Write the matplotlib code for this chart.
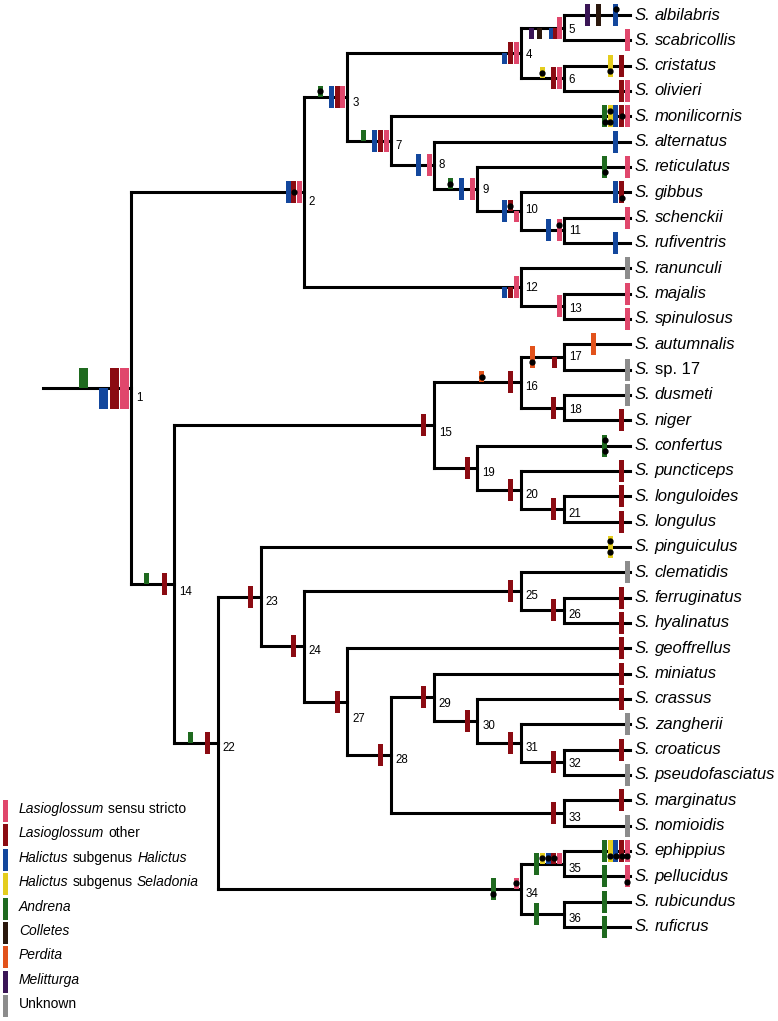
import matplotlib
matplotlib.use("Agg")
import matplotlib.pyplot as plt
from matplotlib.patches import Rectangle

plt.rcParams["font.family"] = ["Liberation Sans", "DejaVu Sans"]

# character-state categories (slot order along a branch, right to left)
cat_keys = ["pk", "rd", "bl", "ye", "gr", "br", "or", "pu", "un"]
cat_colors = ["#E0476C", "#8B0B12", "#13479D", "#E4CD1E", "#1F6A1F",
              "#2B180D", "#E2521B", "#3A1556", "#8C8C8C"]
cat_slot = [0, 1, 2, 3, 4, 5, 6, 7, 0]
legend_rows = [
    [("Lasioglossum", "italic"), ("sensu stricto", "normal")],
    [("Lasioglossum", "italic"), ("other", "normal")],
    [("Halictus", "italic"), ("subgenus", "normal"), ("Halictus", "italic")],
    [("Halictus", "italic"), ("subgenus", "normal"), ("Seladonia", "italic")],
    [("Andrena", "italic")],
    [("Colletes", "italic")],
    [("Perdita", "italic")],
    [("Melitturga", "italic")],
    [("Unknown", "normal")],
]

# tips, top to bottom
tips = ["albilabris", "scabricollis", "cristatus", "olivieri", "monilicornis",
        "alternatus", "reticulatus", "gibbus", "schenckii", "rufiventris",
        "ranunculi", "majalis", "spinulosus", "autumnalis", "sp. 17",
        "dusmeti", "niger", "confertus", "puncticeps", "longuloides",
        "longulus", "pinguiculus", "clematidis", "ferruginatus", "hyalinatus",
        "geoffrellus", "miniatus", "crassus", "zangherii", "croaticus",
        "pseudofasciatus", "marginatus", "nomioidis", "ephippius",
        "pellucidus", "rubicundus", "ruficrus"]
tip_parent = [5, 5, 6, 6, 7, 8, 9, 10, 11, 11, 12, 13, 13, 17, 17, 18, 18,
              19, 20, 21, 21, 23, 25, 26, 26, 27, 29, 30, 31, 32, 32, 33, 33,
              35, 35, 36, 36]
tip_states = ["pu:f br:f bl:f:t", "pk:f", "ye:f:b rd:f", "rd:f pk:f",
              "gr:f:b ye:f:tb bl:f rd:f:m pk:f", "bl:f", "gr:f:b pk:f",
              "bl:f rd:f:b", "pk:f", "bl:f", "un:f", "pk:f", "pk:f", "or:f",
              "un:f", "un:f", "rd:f", "gr:f:tb", "rd:f", "rd:f", "rd:f",
              "ye:f:tb", "un:f", "rd:f", "rd:f", "rd:f", "rd:f", "rd:f",
              "un:f", "rd:f", "un:f", "rd:f", "un:f",
              "gr:f ye:f:b bl:f:b rd:f:b pk:f:b", "gr:f pk:f:b", "gr:f",
              "gr:f"]
tip_level = 11.52
root_start = -2.03

# internal nodes 1..36
node_parent = [0, 1, 2, 3, 4, 4, 3, 7, 8, 9, 10, 2, 12, 1, 14, 15, 16, 16,
               15, 19, 20, 14, 22, 23, 24, 25, 24, 27, 28, 29, 30, 31, 28,
               22, 34, 34]
node_level = [0, 4, 5, 9, 10, 10, 6, 7, 8, 9, 10, 9, 10, 1, 7, 9, 10, 10,
              8, 9, 10, 2, 3, 4, 9, 10, 5, 6, 7, 8, 9, 10, 10, 9, 10, 10]
node_states = ["gr:t bl:b rd:f pk:f", "bl:f rd:f:m pk:f",
               "gr:t:t bl:f rd:f pk:f", "bl:b rd:f pk:f",
               "pu:b br:b bl:b rd:b pk:f", "ye:t:t rd:f pk:f",
               "gr:t bl:f rd:f pk:f", "bl:f pk:f", "gr:t:t bl:f pk:f",
               "bl:f rd:t:t pk:b", "bl:f pk:f:t", "bl:b rd:b pk:f", "pk:f",
               "gr:t rd:f", "rd:f", "or:t:t rd:f", "or:f:b rd:b", "rd:f",
               "rd:f", "rd:f", "rd:f", "gr:t rd:f", "rd:f", "rd:f", "rd:f",
               "rd:f", "rd:f", "rd:f", "rd:f", "rd:f", "rd:f", "rd:f",
               "rd:f", "gr:f:b pk:t:t", "gr:f ye:t:t bl:t:t rd:t:t pk:t",
               "gr:f"]

W, H = 778, 1021
PX_X = 43.3    # pixels per level
PX_Y = 25.33   # pixels per tip
X0, Y0 = 131, 15

fig = plt.figure(figsize=(W / 100, H / 100), dpi=100)
ax = fig.add_axes([0, 0, 1, 1])
ax.set_xlim(-X0 / PX_X, (W - X0) / PX_X)
ax.set_ylim((H - Y0) / PX_Y, -Y0 / PX_Y)
ax.axis("off")

# y positions
children = {n: [] for n in range(1, 37)}
for n in range(2, 37):
    children[node_parent[n - 1]].append(("n", n))
for i in range(len(tips)):
    children[tip_parent[i]].append(("t", i))

ypos = {}
for i in range(len(tips)):
    ypos[("t", i)] = i


def get_y(key):
    if key not in ypos:
        ys = [get_y(c) for c in children[key[1]]]
        ypos[key] = (min(ys) + max(ys)) / 2
    return ypos[key]


def level_of(key):
    return tip_level if key[0] == "t" else node_level[key[1] - 1]


line_kw = dict(color="black", lw=2.2, solid_capstyle="projecting", zorder=1)
y1 = get_y(("n", 1))
ax.plot([root_start, 0], [y1, y1], **line_kw)
for n in range(1, 37):
    x = node_level[n - 1]
    ys = [get_y(c) for c in children[n]]
    ax.plot([x, x], [min(ys), max(ys)], **line_kw)
    for c in children[n]:
        ax.plot([x, level_of(c)], [get_y(c), get_y(c)], **line_kw)

# tighter bar spacing on a couple of short crowded branches
step_override = {5: 4.0, 17: 4.5}


def draw_bars(end_x, y, spec, kind, step=5.7):
    if kind == "root":
        w, hh, first, step = 9, 20.5, 6.5, 10.3
    else:
        w, hh = 5, 11
        first = 2.5 if kind == "tip" else 4.5
    for code in spec.split():
        parts = code.split(":")
        k = cat_keys.index(parts[0])
        part = parts[1]
        dots = parts[2] if len(parts) > 2 else ""
        cx = end_x - (first + cat_slot[k] * step) / PX_X
        top = y - hh / PX_Y if part in "ft" else y
        bot = y + hh / PX_Y if part in "fb" else y
        ax.add_patch(Rectangle((cx - w / 2 / PX_X, top), w / PX_X, bot - top,
                               facecolor=cat_colors[k], edgecolor="none",
                               zorder=3))
        for d in dots:
            dy = {"t": -hh / 2, "b": hh / 2, "m": 0}[d] / PX_Y
            ax.plot(cx, y + dy, "o", color="black", ms=3.5, zorder=4)


draw_bars(0, y1, node_states[0], "root")
for n in range(2, 37):
    draw_bars(node_level[n - 1], get_y(("n", n)), node_states[n - 1], "node",
              step=step_override.get(n, 5.7))
for i in range(len(tips)):
    draw_bars(tip_level, i, tip_states[i], "tip")

# node numbers
label_dy = {1: 10, 2: 10, 3: 6, 4: 2, 5: 2, 6: 2, 8: 0, 9: 1, 10: -1,
            11: 1, 12: 1, 13: 3, 14: 8, 15: 8, 17: 0, 18: 2, 27: 17, 29: 7,
            32: 2}
for n in range(1, 37):
    ax.annotate(str(n), (node_level[n - 1], get_y(("n", n))),
                xytext=(3.4, -0.72 * label_dy.get(n, 5)),
                textcoords="offset points", fontsize=8.3, va="center",
                ha="left", zorder=5)


def write_pieces(x, y, pieces, size, coords="data", xoff=0, gap=0.3):
    prev = None
    for text, style in pieces:
        if prev is None:
            prev = ax.annotate(text, (x, y), xycoords=coords,
                               xytext=(xoff, 0), textcoords="offset points",
                               fontsize=size, style=style, va="center",
                               ha="left")
        else:
            prev = ax.annotate(text, (1, 0), xycoords=prev,
                               xytext=(size * gap, 0),
                               textcoords="offset points", fontsize=size,
                               style=style, va="bottom", ha="left")


# tip labels
for i, name in enumerate(tips):
    style = "normal" if name.startswith("sp.") else "italic"
    write_pieces(tip_level, i, [("S.", "italic"), (name, style)], 12,
                 xoff=3.6, gap=0.25)

# legend
for r, pieces in enumerate(legend_rows):
    yc = 811 + 24.4 * r
    ax.add_patch(Rectangle((3 / W, 1 - (yc + 11) / H), 5 / W, 22 / H,
                           transform=ax.transAxes, facecolor=cat_colors[r],
                           edgecolor="none"))
    write_pieces(19 / W, 1 - (yc - 2) / H, pieces, 10,
                 coords=ax.transAxes)

fig.savefig("out.png", dpi=100)
